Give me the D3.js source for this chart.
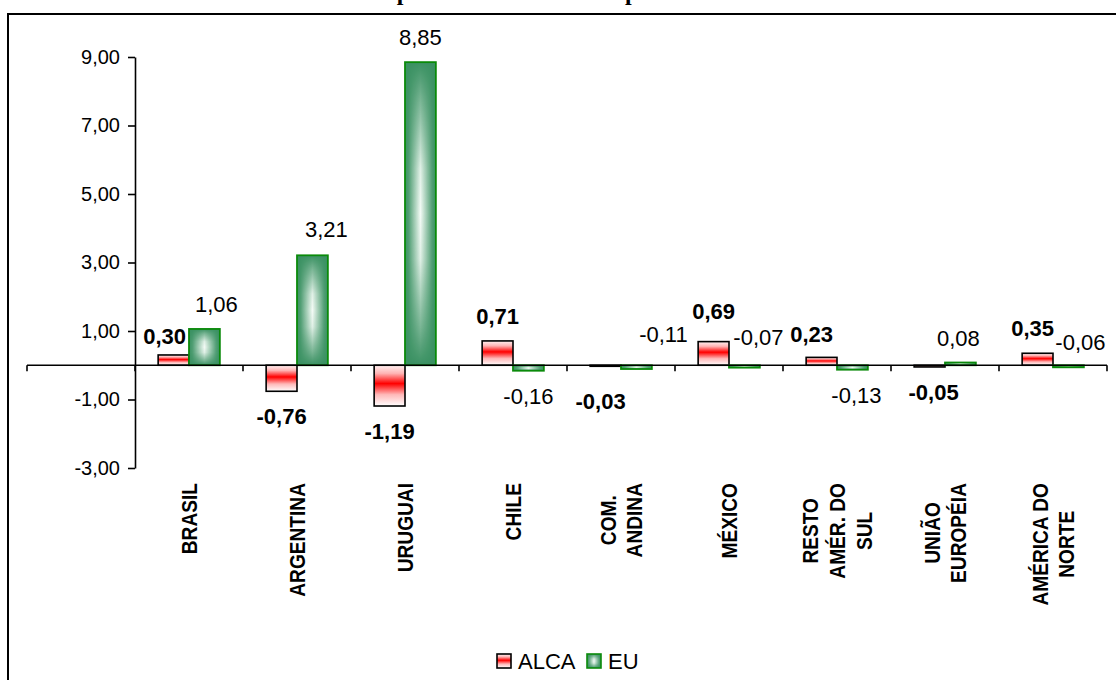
<!DOCTYPE html>
<html>
<head>
<meta charset="utf-8">
<script src="https://cdn.jsdelivr.net/npm/d3@7"></script>
<style>
  html, body { margin: 0; padding: 0; background: #fff; }
  svg { display: block; }
  text { font-family: "Liberation Sans", Arial, sans-serif; fill: #000; }
</style>
</head>
<body>
<svg id="chart" width="1116" height="680"></svg>
<script>
// ---- data ----
const categories = ["BRASIL", "ARGENTINA", "URUGUAI", "CHILE", "COM.\nANDINA", "MÉXICO",
                    "RESTO\nAMÉR. DO\nSUL", "UNIÃO\nEUROPÉIA", "AMÉRICA DO\nNORTE"];
const seriesNames = ["ALCA", "EU"];
const alcaValues = [0.30, -0.76, -1.19, 0.71, -0.03, 0.69, 0.23, -0.05, 0.35];
const euValues   = [1.06, 3.21, 8.85, -0.16, -0.11, -0.07, -0.13, 0.08, -0.06];
const yTickValues = [-3, -1, 1, 3, 5, 7, 9];
const titleText = "Impacto sobre o PIB dos países";

// label nudges (annotation placement, px) relative to the default position
const alcaLabelNudge = [[-9, 6], [0, 0], [0, 0], [0, 0], [-5, 10], [0, -6], [-10, 2], [4, 0], [-5, 0]];
const euLabelNudge   = [[12, 0], [14, -1], [0, 0], [0, 0], [27, -60], [14, -56], [4, 0], [-2, 0], [12, -50]];

// ---- setup ----
const svg = d3.select("#chart");
const W = 1116, H = 680;
svg.append("rect").attr("width", W).attr("height", H).attr("fill", "#fff");

const loc = d3.formatLocale({decimal: ",", thousands: ".", grouping: [3], currency: ["", ""], minus: "-"});
const fmt = loc.format(".2f");

const defs = svg.append("defs");
// red: horizontal band gradient (white - red - white)
const rg = defs.append("linearGradient").attr("id", "redGrad")
  .attr("x1", 0).attr("y1", 0).attr("x2", 0).attr("y2", 1);
[[0, "#fff2f2"], [0.2, "#ffb4b4"], [0.45, "#ff0000"], [0.72, "#ffb8b8"], [1, "#ffffff"]]
  .forEach(([o, c]) => rg.append("stop").attr("offset", o).attr("stop-color", c));
// green: rectangular "from centre" gradient built from two masks
function lumGrad(id, horiz) {
  const g = defs.append("linearGradient").attr("id", id)
    .attr("x1", 0).attr("y1", 0).attr("x2", horiz ? 1 : 0).attr("y2", horiz ? 0 : 1);
  const st = horiz
    ? [[0, "#000"], [0.12, "#222"], [0.5, "#fff"], [0.88, "#222"], [1, "#000"]]
    : [[0, "#000"], [0.12, "#555"], [0.35, "#e4e4e4"], [0.5, "#fff"], [0.65, "#e4e4e4"], [0.88, "#555"], [1, "#000"]];
  st.forEach(([o, c]) => g.append("stop").attr("offset", o).attr("stop-color", c));
}
lumGrad("gH", true);
lumGrad("gV", false);
defs.append("mask").attr("id", "mV").attr("maskContentUnits", "objectBoundingBox")
  .append("rect").attr("width", 1).attr("height", 1).attr("fill", "url(#gV)");
defs.append("mask").attr("id", "mHV").attr("maskContentUnits", "objectBoundingBox")
  .append("rect").attr("width", 1).attr("height", 1).attr("fill", "url(#gH)").attr("mask", "url(#mV)");

// ---- scales ----
const x = d3.scaleBand().domain(["", ...categories]).range([27, 1107]).paddingInner(0).paddingOuter(0);
const xs = d3.scaleBand().domain(seriesNames).range([0, x.bandwidth()]).paddingInner(0).paddingOuter(0.75);
const y = d3.scaleLinear().domain([-3, 9]).range([468, 57]);

// ---- title (clipped at top of page) ----
svg.append("text").attr("x", 527).attr("y", 0).attr("text-anchor", "middle")
  .style("font-family", "'Liberation Serif', 'Times New Roman', serif")
  .style("font-weight", "bold").style("font-size", "24px").text(titleText);

// ---- frame ----
svg.append("rect").attr("x", 8).attr("y", 14).attr("width", 1130).attr("height", 700)
  .attr("fill", "none").attr("stroke", "#000").attr("stroke-width", 2);

// ---- bars ----
const rows = categories.map((c, i) => ({c, alca: alcaValues[i], eu: euValues[i], i}));
const gBars = svg.append("g");

rows.forEach(r => {
  const x0 = x(r.c);
  // ALCA
  const ya = Math.min(y(r.alca), y(0)), ha = Math.abs(y(r.alca) - y(0));
  gBars.append("rect").attr("x", x0 + xs("ALCA")).attr("y", ya)
    .attr("width", xs.bandwidth()).attr("height", ha)
    .attr("fill", "url(#redGrad)").attr("stroke", "#000").attr("stroke-width", 1.6);
  // EU
  const ye = Math.min(y(r.eu), y(0)), he = Math.abs(y(r.eu) - y(0));
  const ex = x0 + xs("EU");
  gBars.append("rect").attr("x", ex).attr("y", ye).attr("width", xs.bandwidth()).attr("height", he)
    .attr("fill", "#3a9162");
  gBars.append("rect").attr("x", ex).attr("y", ye).attr("width", xs.bandwidth()).attr("height", he)
    .attr("fill", "#f4fbf6").attr("mask", "url(#mHV)");
  gBars.append("rect").attr("x", ex).attr("y", ye).attr("width", xs.bandwidth()).attr("height", he)
    .attr("fill", "none").attr("stroke", "#0a8a0a").attr("stroke-width", 1.8);
});

// ---- y axis ----
const yAxis = d3.axisLeft(y).tickValues(yTickValues).tickSize(7).tickSizeOuter(0).tickPadding(8)
  .tickFormat(d => fmt(d));
const gy = svg.append("g").attr("transform", "translate(135,0)").call(yAxis);
gy.select(".domain").attr("stroke", "#000").attr("stroke-width", 1.6);
gy.selectAll(".tick line").attr("stroke", "#000").attr("stroke-width", 1.6);
gy.selectAll(".tick text").style("font-size", "20px").style("font-family", "'Liberation Sans', Arial, sans-serif")
  .attr("fill", "#000");

// ---- category axis at zero ----
const y0 = y(0);
svg.append("line").attr("x1", x.range()[0]).attr("x2", x.range()[1]).attr("y1", y0).attr("y2", y0)
  .attr("stroke", "#000").attr("stroke-width", 1.6);
const bounds = x.domain().map(d => x(d)).concat([x.range()[1]]);
svg.selectAll(".xtick").data(bounds).enter().append("line")
  .attr("x1", d => d).attr("x2", d => d).attr("y1", y0).attr("y2", y0 + 6)
  .attr("stroke", "#000").attr("stroke-width", 1.6);

// category labels (rotated)
const lineH = 27, labelTop = 483, sx = 0.87;
categories.forEach(c => {
  const lines = c.split("\n");
  const cx = x(c) + x.bandwidth() / 2;
  const g = svg.append("g").attr("transform", `translate(${cx},${labelTop}) rotate(-90) scale(${sx},1)`);
  const texts = lines.map((ln, k) => g.append("text")
    .attr("y", (k - (lines.length - 1) / 2) * lineH)
    .attr("dominant-baseline", "central").attr("text-anchor", "middle")
    .style("font-weight", "bold").style("font-size", "22px").text(ln));
  const Lmax = d3.max(texts, t => t.node().getComputedTextLength());
  texts.forEach(t => t.attr("x", -Lmax / 2));
});

// ---- value labels ----
function labelPos(cxBar, v, nudge) {
  let base;
  if (v >= 0) base = y(v) - 17;
  else base = y(v) + 33;
  return [cxBar + nudge[0], base + nudge[1]];
}
rows.forEach(r => {
  const x0 = x(r.c);
  const ca = x0 + xs("ALCA") + xs.bandwidth() / 2;
  const ce = x0 + xs("EU") + xs.bandwidth() / 2;
  const [ax, ay] = labelPos(ca, r.alca, alcaLabelNudge[r.i]);
  svg.append("text").attr("x", ax).attr("y", ay).attr("text-anchor", "middle")
    .style("font-weight", "bold").style("font-size", "22px").text(fmt(r.alca));
  const [ex, ey] = labelPos(ce, r.eu, euLabelNudge[r.i]);
  svg.append("text").attr("x", ex).attr("y", ey).attr("text-anchor", "middle")
    .style("font-size", "22px").text(fmt(r.eu));
});

// ---- legend ----
const leg = svg.append("g");
const legItems = [
  {name: "ALCA", x: 497, fill: "url(#redGrad)", stroke: "#000", green: false},
  {name: "EU", x: 587, fill: "#3a9162", stroke: "#0a8a0a", green: true}
];
legItems.forEach(it => {
  leg.append("rect").attr("x", it.x).attr("y", 654).attr("width", 14).attr("height", 14)
    .attr("fill", it.fill);
  if (it.green) {
    leg.append("rect").attr("x", it.x).attr("y", 654).attr("width", 14).attr("height", 14)
      .attr("fill", "#f4fbf6").attr("mask", "url(#mHV)");
  }
  leg.append("rect").attr("x", it.x).attr("y", 654).attr("width", 14).attr("height", 14)
    .attr("fill", "none").attr("stroke", it.stroke).attr("stroke-width", 1.6);
  leg.append("text").attr("x", it.x + 21).attr("y", 669).style("font-size", "22px").text(it.name);
});
</script>
</body>
</html>
